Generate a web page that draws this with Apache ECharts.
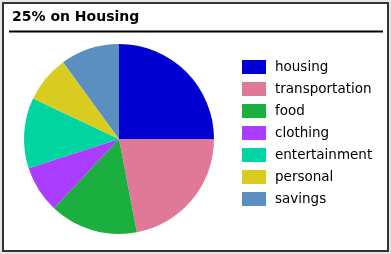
<!DOCTYPE html>
<html><head><meta charset="utf-8">
<script src="https://cdn.jsdelivr.net/npm/echarts@6/dist/echarts.min.js"></script>
<style>html,body{margin:0;padding:0;background:#e6e6e6;}#c{width:391px;height:254px;}</style>
</head><body><div id="c"></div>
<script>
const categories = ['housing','transportation','food','clothing','entertainment','personal','savings'];
const values = [25, 22, 15, 8, 12, 8, 10];
const colors = ['#0000d2','#e07898','#1aaf3f','#aa3dff','#00d4a0','#d9cc20','#5b8fc0'];
const titleText = '25% on Housing';

const chart = echarts.init(document.getElementById('c'), null, {renderer:'canvas'});
chart.setOption({
  animation: false,
  color: colors,
  graphic: [
    {type:'rect', shape:{x:3, y:3, width:385, height:248}, style:{fill:'#fff', stroke:'#333', lineWidth:2}, z:-10},
    {type:'line', shape:{x1:9, y1:31.5, x2:383, y2:31.5}, style:{stroke:'#000', lineWidth:2}},
    {type:'text', left:12, top:10, style:{text:titleText, font:'bold 14px "DejaVu Sans"', fill:'#000'}}
  ],
  legend: {
    orient:'vertical', left:242, top:60, padding:0,
    itemWidth:24, itemHeight:14, itemGap:8,
    icon:'rect',
    textStyle:{fontFamily:'DejaVu Sans', fontSize:13.5, color:'#000', padding:[0,0,0,4]},
    data: categories
  },
  series: [{
    type:'pie', center:[119,139], radius:95, startAngle:90, clockwise:true,
    label:{show:false}, labelLine:{show:false},
    itemStyle:{borderWidth:0},
    emphasis:{disabled:true},
    data: categories.map((n,i)=>({name:n, value:values[i]}))
  }]
});
</script></body></html>
